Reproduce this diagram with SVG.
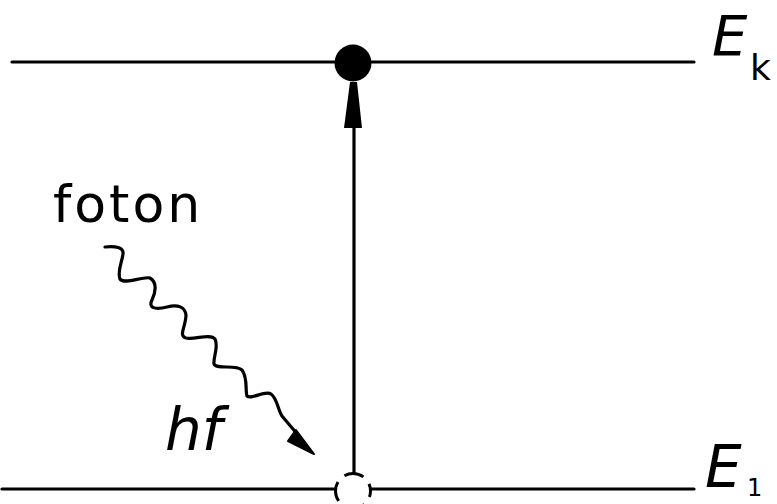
<svg xmlns="http://www.w3.org/2000/svg" width="777" height="504" viewBox="0 0 777 504">
<style>
.ln{stroke:#000;stroke-width:3.2;fill:none;stroke-linecap:round;stroke-linejoin:round}
.t{font-family:"DejaVu Sans","Liberation Sans",sans-serif;fill:#000}
.it{font-style:italic}
</style>
<rect width="777" height="504" fill="#fff"/>
<g id="levels">
<g id="level-k"><line class="ln" x1="12" y1="62" x2="694" y2="62"/>
<text class="t it" x="712" y="55" font-size="56">E</text>
<text class="t" x="750" y="80" font-size="36">k</text></g>
<g id="level-1"><line class="ln" x1="2" y1="489" x2="694" y2="489"/>
<text class="t it" x="705" y="487" font-size="58">E</text>
<text class="t" x="747" y="496" font-size="24">1</text></g>
</g>
<g id="electron-excited"><circle cx="353" cy="63" r="18.5" fill="#000"/></g>
<g id="electron-ground"><circle cx="353" cy="491" r="17.5" fill="#fff" stroke="#000" stroke-width="3" stroke-dasharray="20 9" stroke-dashoffset="14"/></g>
<g id="connectors">
<line class="ln" x1="354" y1="120" x2="354" y2="472"/>
<polygon points="350,82 357,82 362,128 344,128" fill="#000"/>
<path class="ln" d="M105,247 C115,246 124,247 123,254 C122,262 117,272 120,279 C124,285 143,276 150,278 C157,282 156,292 152,300 C148,308 155,310 167,307 C178,304 185,307 186,315 C186,326 178,336 186,338 C195,340 210,333 215,339 C219,347 213,357 214,364 C217,370 236,364 242,370 C248,378 245,390 247,396 C251,400 265,390 271,394 C277,398 278,410 282,416 L298,435"/>
<polygon points="314,454 288,441 293,434 296,430" fill="#000" stroke="#000" stroke-width="2" stroke-linejoin="round"/>
</g>
<g id="labels">
<text class="t" x="53" y="222" font-size="52" letter-spacing="3">foton</text>
<text class="t it" x="165" y="450" font-size="58">hf</text>
</g>
</svg>
